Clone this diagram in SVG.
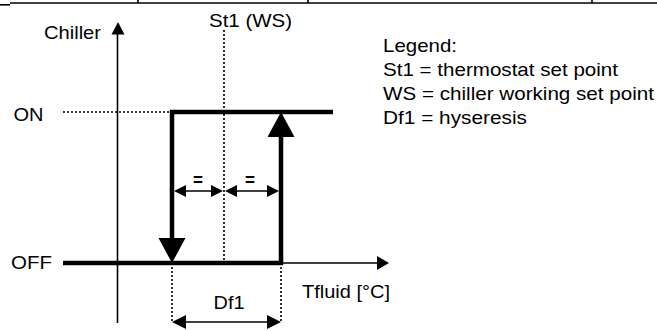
<svg xmlns="http://www.w3.org/2000/svg" width="657" height="331" viewBox="0 0 657 331">
<style>
text{font-family:"Liberation Sans",Arial,sans-serif;font-size:19px;fill:#000}
.eq{font-weight:bold}
.thin{stroke:#000;stroke-width:1.6;fill:none}
.thick{stroke:#000;stroke-width:4.5;fill:none}
.dot{stroke:#000;stroke-width:1.6;fill:none;stroke-dasharray:2 2}
.head{fill:#000;stroke:none}
</style>
<rect width="657" height="331" fill="#fff"/>
<g id="table-border">
<line class="thin" x1="10" y1="3" x2="657" y2="3"/>
<line class="thin" x1="0" y1="4.8" x2="10" y2="4.8"/>
<line class="thin" x1="138" y1="0" x2="138" y2="3"/>
<line class="thin" x1="308" y1="0" x2="308" y2="3"/>
<line class="thin" x1="592" y1="0" x2="592" y2="3"/>
</g>
<g id="axes">
<line class="thin" x1="117.5" y1="33" x2="117.5" y2="323"/>
<polygon class="head" points="118,22 111.5,34.5 124.5,34.5"/>
<line class="thin" x1="281" y1="263" x2="378" y2="263"/>
<polygon class="head" points="389,263 377,256 377,270"/>
</g>
<g id="connectors">
<line class="dot" x1="63" y1="112" x2="172" y2="112"/>
<line class="dot" x1="224" y1="30" x2="224" y2="263"/>
<line class="dot" x1="172" y1="263" x2="172" y2="322"/>
<line class="dot" x1="281" y1="263" x2="281" y2="322"/>
<line class="thick" x1="63" y1="263" x2="283" y2="263"/>
<line class="thick" x1="170" y1="112" x2="333" y2="112"/>
<line class="thick" x1="172" y1="110" x2="172" y2="240"/>
<polygon class="head" points="158.5,238 185.5,238 172,263"/>
<line class="thick" x1="281" y1="265" x2="281" y2="135"/>
<polygon class="head" points="267.5,137 294.5,137 281,112"/>
<line class="thin" x1="180" y1="191" x2="216" y2="191"/>
<polygon class="head" points="174,191 186,185 186,197"/>
<polygon class="head" points="223,191 211,185 211,197"/>
<line class="thin" x1="232" y1="191" x2="272" y2="191"/>
<polygon class="head" points="225,191 237,185 237,197"/>
<polygon class="head" points="279,191 267,185 267,197"/>
<line class="thin" x1="180" y1="322" x2="273" y2="322"/>
<polygon class="head" points="172,322 186,315 186,329"/>
<polygon class="head" points="281,322 267,315 267,329"/>
</g>
<g id="labels">
<text x="44" y="39" textLength="57" lengthAdjust="spacingAndGlyphs">Chiller</text>
<text x="209" y="27" textLength="83" lengthAdjust="spacingAndGlyphs">St1 (WS)</text>
<text x="13.5" y="121" textLength="30" lengthAdjust="spacingAndGlyphs">ON</text>
<text x="11" y="269" textLength="41" lengthAdjust="spacingAndGlyphs">OFF</text>
<text x="302" y="298" textLength="88" lengthAdjust="spacingAndGlyphs">Tfluid [°C]</text>
<text x="213.5" y="309" textLength="31" lengthAdjust="spacingAndGlyphs">Df1</text>
<text class="eq" x="193" y="186" textLength="10" lengthAdjust="spacingAndGlyphs">=</text>
<text class="eq" x="245" y="186" textLength="10" lengthAdjust="spacingAndGlyphs">=</text>
</g>
<g id="legend">
<text x="383" y="52" textLength="74" lengthAdjust="spacingAndGlyphs">Legend:</text>
<text x="383" y="76" textLength="235" lengthAdjust="spacingAndGlyphs">St1 = thermostat set point</text>
<text x="383" y="100" textLength="271" lengthAdjust="spacingAndGlyphs">WS = chiller working set point</text>
<text x="383" y="124" textLength="144" lengthAdjust="spacingAndGlyphs">Df1 = hyseresis</text>
</g>
</svg>
